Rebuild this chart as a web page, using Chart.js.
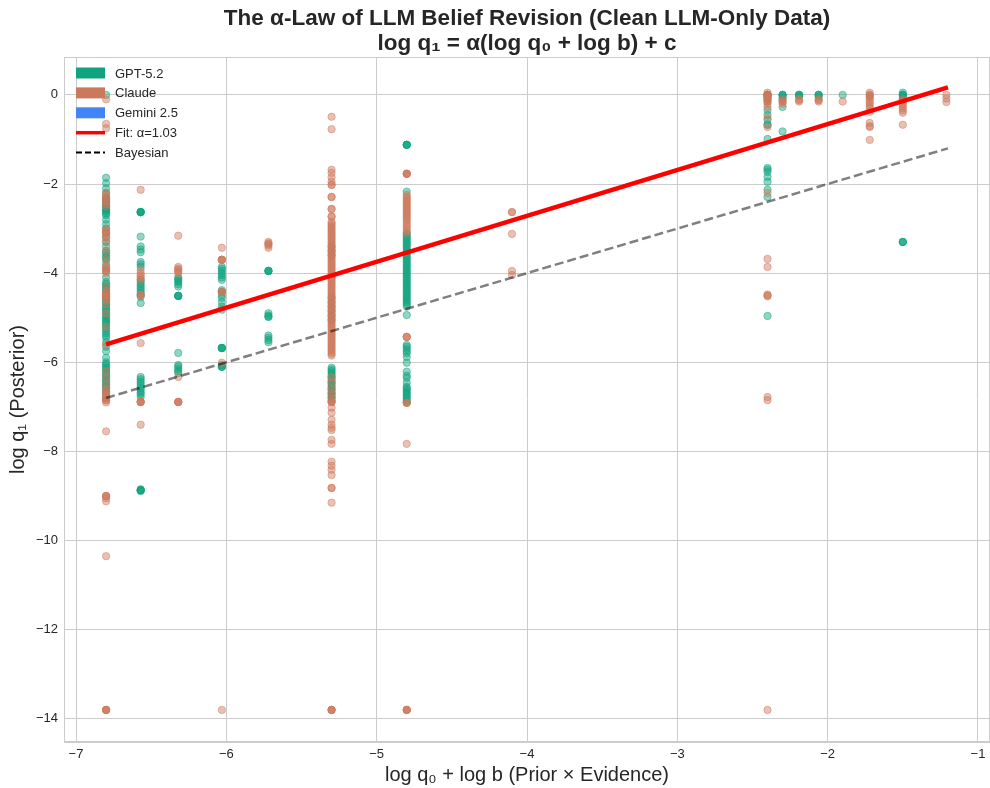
<!DOCTYPE html>
<html>
<head>
<meta charset="utf-8">
<script src="https://cdn.jsdelivr.net/npm/chart.js@4"></script>
<style>
  html, body { margin: 0; padding: 0; background: #fff; overflow: hidden; }
  #wrap { width: 990px; height: 788px; position: relative; overflow: hidden; }
  canvas { display: block; }
</style>
</head>
<body>
<div id="wrap"><canvas id="c"></canvas></div>
<script>
// x positions of the columns (log q0 + log b)
const colX = [-6.8, -6.57, -6.32, -6.03, -5.72, -5.3, -4.8, -4.1, -2.4, -2.3, -2.19, -2.06, -1.9, -1.72, -1.5, -1.21];

// posterior values per column, GPT-5.2
const gptY = [
  [0.0, -1.86, -1.98, -2.1, -2.2, -2.3, -2.33, -2.36, -2.39, -2.42, -2.45, -2.48, -2.51, -2.54, -2.57, -2.6, -2.63, -2.66, -2.7, -2.8, -2.9, -3.0, -3.1, -3.2, -3.3, -3.4, -3.5, -3.55, -3.6, -3.65, -3.7, -3.8, -3.95, -4.1, -4.2, -4.24, -4.28, -4.32, -4.36, -4.4, -4.44, -4.48, -4.52, -4.56, -4.6, -4.64, -4.68, -4.72, -4.76, -4.8, -4.84, -4.88, -4.92, -4.96, -5.0, -5.04, -5.08, -5.12, -5.16, -5.2, -5.25, -5.3, -5.35, -5.4, -5.45, -5.55, -5.65, -5.75, -5.9, -6.0, -6.04, -6.08, -6.12, -6.16, -6.2, -6.24, -6.28, -6.32, -6.36, -6.4, -6.44, -6.48, -6.52, -6.56, -6.6, -6.65, -6.7, -6.8],
  [-2.63, -2.63, -2.63, -2.63, -2.63, -3.18, -3.4, -3.47, -3.53, -3.75, -3.8, -3.86, -4.15, -4.2, -4.25, -4.3, -4.35, -4.4, -4.45, -4.53, -4.67, -6.33, -6.38, -6.43, -6.48, -6.53, -6.58, -6.63, -6.68, -6.72, -6.78, -8.85, -8.87, -8.87, -8.89, -8.87],
  [-4.1, -4.13, -4.17, -4.2, -4.25, -4.3, -4.51, -4.51, -4.51, -4.51, -5.79, -6.06, -6.1, -6.15, -6.2, -6.24],
  [-3.86, -3.9, -3.95, -4.0, -4.05, -4.1, -4.15, -4.38, -4.42, -4.49, -4.55, -4.65, -4.75, -4.82, -5.68, -5.68, -5.68, -5.68, -6.06, -6.1, -6.1, -6.1],
  [-3.95, -3.95, -3.95, -3.95, -4.9, -4.95, -4.98, -4.98, -5.4, -5.45, -5.5, -5.55],
  [-3.4, -3.5, -3.6, -4.55, -4.65, -4.75, -4.85, -4.95, -5.05, -6.12, -6.16, -6.2, -6.24, -6.28, -6.32, -6.36, -6.4, -6.44, -6.48, -6.52, -6.56, -6.6, -6.64, -6.68, -6.72, -6.76, -6.8, -6.85],
  [-1.12, -1.12, -1.12, -1.12, -2.17, -3.1, -3.14, -3.18, -3.22, -3.26, -3.3, -3.34, -3.38, -3.42, -3.46, -3.5, -3.54, -3.58, -3.62, -3.66, -3.7, -3.74, -3.78, -3.82, -3.86, -3.9, -3.94, -3.98, -4.02, -4.06, -4.1, -4.14, -4.18, -4.22, -4.26, -4.3, -4.34, -4.38, -4.42, -4.46, -4.5, -4.54, -4.58, -4.62, -4.66, -4.7, -4.75, -4.94, -5.61, -5.65, -5.7, -5.75, -5.8, -5.88, -6.01, -6.21, -6.3, -6.35, -6.46, -6.55, -6.58, -6.62, -6.66, -6.7, -6.74, -6.78, -6.82, -6.86, -6.89],
  [],
  [0.0, 0.0, 0.0, 0.0, -0.05, -0.1, -0.15, -0.34, -0.45, -0.56, -0.67, -0.67, -0.99, -1.64, -1.68, -1.73, -1.84, -1.95, -2.13, -2.29, -4.96],
  [0.0, 0.0, 0.0, -0.05, -0.1, -0.27, -0.82],
  [0.0, 0.0, 0.0, -0.03],
  [0.0, 0.0, 0.0, -0.05],
  [0.0],
  [],
  [0.05, 0.0, 0.0, 0.0, -0.05, -0.1, -3.3, -3.3, -3.3],
  []
];

// posterior values per column, Claude
const claudeY = [
  [-0.1, -0.65, -0.75, -2.2, -2.25, -2.3, -2.35, -2.4, -2.45, -2.5, -3.0, -3.05, -3.08, -3.1, -3.15, -3.2, -3.3, -3.5, -3.7, -3.85, -3.88, -3.9, -3.95, -4.0, -4.3, -4.4, -4.45, -4.48, -4.5, -4.52, -4.55, -4.6, -4.7, -4.9, -5.2, -5.6, -6.2, -6.35, -6.5, -6.6, -6.65, -6.7, -6.75, -6.8, -6.8, -6.85, -6.85, -6.9, -7.55, -9.0, -9.0, -9.0, -9.05, -9.12, -10.35, -13.8, -13.8, -13.8, -13.8],
  [-2.13, -3.93, -4.0, -4.05, -4.1, -4.15, -4.49, -4.49, -4.49, -5.57, -6.89, -6.89, -6.89, -6.89, -7.4],
  [-3.16, -3.86, -3.9, -3.93, -3.97, -4.0, -6.33, -6.89, -6.89, -6.89, -6.89],
  [-3.43, -3.7, -3.7, -3.7, -3.7, -4.42, -4.42, -4.42, -6.01, -13.8],
  [-3.3, -3.33, -3.35, -3.38, -3.43],
  [-0.49, -0.77, -1.68, -1.75, -1.85, -1.95, -2.02, -2.02, -2.29, -2.29, -2.56, -2.56, -2.73, -2.73, -2.85, -2.89, -2.93, -2.97, -3.01, -3.05, -3.09, -3.13, -3.17, -3.21, -3.25, -3.29, -3.33, -3.37, -3.41, -3.45, -3.49, -3.53, -3.57, -3.61, -3.65, -3.69, -3.73, -3.77, -3.81, -3.85, -3.89, -3.93, -3.97, -4.01, -4.05, -4.09, -4.13, -4.17, -4.21, -4.25, -4.29, -4.33, -4.37, -4.41, -4.45, -4.49, -4.53, -4.57, -4.61, -4.65, -4.69, -4.73, -4.77, -4.81, -4.85, -4.89, -4.93, -4.97, -5.01, -5.05, -5.09, -5.13, -5.17, -5.21, -5.25, -5.29, -5.33, -5.37, -5.41, -5.45, -5.49, -5.53, -5.57, -5.61, -5.65, -5.69, -5.73, -5.77, -5.81, -5.85, -6.33, -6.45, -6.6, -6.7, -6.8, -6.89, -6.89, -6.89, -7.02, -7.13, -7.29, -7.4, -7.47, -7.52, -7.74, -7.83, -8.23, -8.32, -8.41, -8.53, -8.82, -8.82, -9.15, -13.8, -13.8, -13.8, -13.8],
  [-1.77, -1.77, -1.77, -1.77, -2.24, -2.28, -2.32, -2.36, -2.4, -2.44, -2.48, -2.52, -2.56, -2.6, -2.64, -2.68, -2.72, -2.76, -2.8, -2.85, -2.9, -2.95, -3.0, -3.05, -3.1, -5.43, -5.43, -5.43, -6.91, -6.91, -6.91, -7.83, -13.8, -13.8, -13.8, -13.8],
  [-2.63, -2.63, -3.12, -3.95, -4.04],
  [0.05, 0.0, 0.0, 0.0, -0.03, -0.05, -0.08, -0.1, -0.15, -0.2, -0.27, -0.52, -0.72, -2.2, -3.68, -3.86, -4.48, -4.5, -4.52, -6.78, -6.85, -13.8],
  [-0.1, -0.15, -0.2, -0.15],
  [-0.1, -0.15, -0.12],
  [-0.1, -0.15, -0.12],
  [-0.15],
  [0.05, 0.0, 0.0, -0.03, -0.05, -0.1, -0.15, -0.2, -0.25, -0.3, -0.38, -0.63, -0.7, -0.72, -1.01],
  [-0.1, -0.15, -0.2, -0.25, -0.3, -0.35, -0.4, -0.67],
  [0.0, -0.08, -0.16]
];

// no clean Gemini 2.5 points survive
const geminiY = colX.map(() => []);

// fitted line and Bayesian reference
const fitX = [-6.8, -1.2];
const fitY = [-5.6, 0.17];
const bayesX = [-6.8, -1.2];
const bayesY = [-6.8, -1.2];

const xTicks = [-7, -6, -5, -4, -3, -2, -1];
const yTicks = [0, -2, -4, -6, -8, -10, -12, -14];

function toPoints(cols) {
  const pts = [];
  cols.forEach((ys, i) => ys.forEach(y => pts.push({ x: colX[i], y })));
  return pts;
}
function pair(xs, ys) {
  return xs.map((x, i) => ({ x, y: ys[i] }));
}
const minus = v => String(v).replace('-', '\u2212');

const FONT = "'Liberation Sans', Arial, sans-serif";
const TXT = '#262626';

const legendItems = [
  { label: 'GPT-5.2', type: 'patch', color: '#10a37f' },
  { label: 'Claude', type: 'patch', color: '#cc785c' },
  { label: 'Gemini 2.5', type: 'patch', color: '#4285f4' },
  { label: 'Fit: \u03b1=1.03', type: 'line', color: '#ff0000' },
  { label: 'Bayesian', type: 'dash', color: '#000000' }
];

const decor = {
  id: 'decor',
  beforeDatasetsDraw(chart) {
    const { ctx, chartArea: a } = chart;
    ctx.save();
    ctx.strokeStyle = '#cccccc';
    ctx.lineWidth = 1;
    ctx.strokeRect(a.left + 0.5, a.top + 0.5, a.right - a.left - 1, a.bottom - a.top - 1);
    ctx.restore();
  },
  afterDraw(chart) {
    const { ctx, chartArea: a } = chart;
    ctx.save();
    // title
    ctx.fillStyle = TXT;
    ctx.textAlign = 'center';
    ctx.textBaseline = 'alphabetic';
    ctx.font = 'bold 22.5px ' + FONT;
    const cx = (a.left + a.right) / 2;
    ctx.fillText('The \u03b1-Law of LLM Belief Revision (Clean LLM-Only Data)', cx, 25);
    ctx.fillText('log q\u2081 = \u03b1(log q\u2080 + log b) + c', cx, 50);
    // axis titles
    ctx.font = '20px ' + FONT;
    ctx.fillText('log q\u2080 + log b (Prior \u00d7 Evidence)', cx, 781);
    ctx.save();
    ctx.translate(24, (a.top + a.bottom) / 2);
    ctx.rotate(-Math.PI / 2);
    ctx.fillText('log q\u2081 (Posterior)', 0, 0);
    ctx.restore();
    // legend
    ctx.font = '13px ' + FONT;
    ctx.textAlign = 'left';
    ctx.textBaseline = 'middle';
    legendItems.forEach((it, i) => {
      const y = 73 + i * 19.9;
      const x0 = 76, x1 = 105;
      if (it.type === 'patch') {
        ctx.fillStyle = it.color;
        ctx.fillRect(x0, y - 5.5, x1 - x0, 11);
      } else {
        ctx.beginPath();
        ctx.strokeStyle = it.color;
        ctx.lineWidth = it.type === 'line' ? 3.5 : 2;
        ctx.setLineDash(it.type === 'dash' ? [6, 3] : []);
        ctx.moveTo(x0, y);
        ctx.lineTo(x1, y);
        ctx.stroke();
        ctx.setLineDash([]);
      }
      ctx.fillStyle = TXT;
      ctx.fillText(it.label, 115, y + 1);
    });
    ctx.restore();
  }
};

const scatterStyle = (rgb) => ({
  backgroundColor: `rgba(${rgb},0.46)`,
  borderColor: `rgba(${rgb},0.46)`,
  borderWidth: 1,
  pointRadius: 3.7,
  pointHoverRadius: 3.7
});

new Chart(document.getElementById('c'), {
  type: 'scatter',
  data: {
    datasets: [
      { label: 'Fit', type: 'line', data: pair(fitX, fitY), borderColor: '#ff0000', borderWidth: 4.5, pointRadius: 0, fill: false, order: 0 },
      { label: 'Bayesian', type: 'line', data: pair(bayesX, bayesY), borderColor: 'rgba(0,0,0,0.5)', borderWidth: 2.5, borderDash: [9, 4], pointRadius: 0, fill: false, order: 1 },
      { label: 'Gemini 2.5', data: toPoints(geminiY), ...scatterStyle('66,133,244'), order: 2 },
      { label: 'Claude', data: toPoints(claudeY), ...scatterStyle('204,120,92'), order: 3 },
      { label: 'GPT-5.2', data: toPoints(gptY), ...scatterStyle('16,163,127'), order: 4 }
    ]
  },
  options: {
    responsive: true,
    maintainAspectRatio: false,
    animation: false,
    layout: { autoPadding: false, padding: { top: 57, left: 0, right: 0, bottom: 0 } },
    plugins: { legend: { display: false }, title: { display: false }, tooltip: { enabled: false } },
    scales: {
      x: {
        type: 'linear',
        min: -7.08,
        max: -0.92,
        afterFit: s => { s.height = 46; s.paddingLeft = 0; s.paddingRight = 0; },
        afterBuildTicks: s => { s.ticks = xTicks.map(v => ({ value: v })); },
        grid: { color: '#cccccc', lineWidth: 1, drawTicks: false },
        border: { color: '#cccccc' },
        ticks: { padding: 5, color: TXT, font: { family: FONT, size: 13 }, callback: v => minus(v) }
      },
      y: {
        type: 'linear',
        min: -14.52,
        max: 0.85,
        afterFit: s => { s.width = 64; s.paddingTop = 0; s.paddingBottom = 0; },
        afterBuildTicks: s => { s.ticks = yTicks.map(v => ({ value: v })); },
        grid: { color: '#cccccc', lineWidth: 1, drawTicks: false },
        border: { color: '#cccccc' },
        ticks: { padding: 6, color: TXT, font: { family: FONT, size: 13 }, callback: v => minus(v) }
      }
    }
  },
  plugins: [decor]
});
</script>
</body>
</html>
